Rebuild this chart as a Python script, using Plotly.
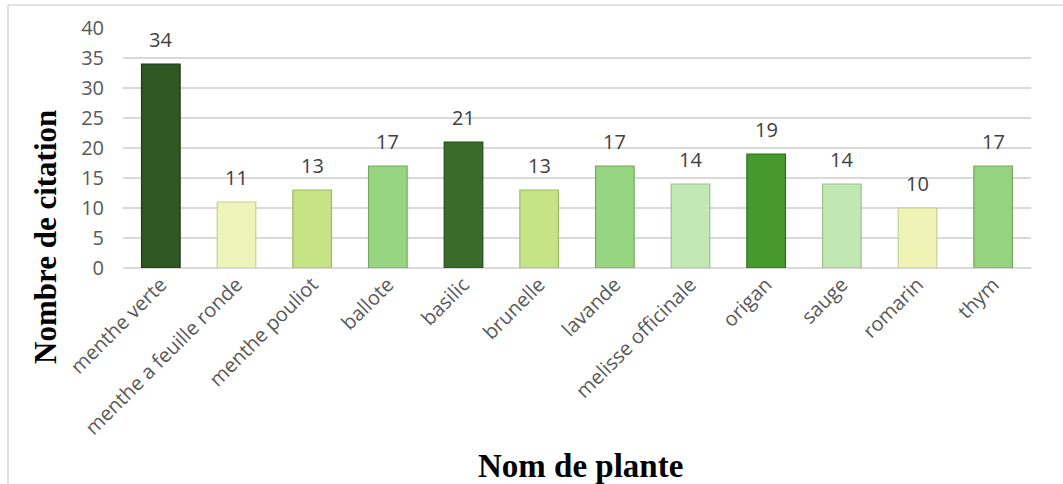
import plotly.graph_objects as go

plantes = ["menthe verte", "menthe a feuille ronde", "menthe pouliot", "ballote",
           "basilic", "brunelle", "lavande", "melisse officinale", "origan",
           "sauge", "romarin", "thym"]
citations = [34, 11, 13, 17, 21, 13, 17, 14, 19, 14, 10, 17]
couleurs = ["#2f5722", "#eef5bb", "#c6e386", "#98d580", "#3a6c29", "#c5e486",
            "#98d580", "#c2e8b3", "#469a2c", "#c1e7b2", "#eff3b5", "#96d37e"]
contours = ["#1f3c16", "#c9cf93", "#9fb866", "#74a860", "#27491b", "#9fb866",
            "#74a860", "#9cbf8e", "#2f6b1d", "#9cbf8e", "#c9cf93", "#74a860"]

# plot area spans x 123..1031 px and y 28..268 px
L, R, T, B = 123, 32, 28, 216
PW, PH = 1063 - L - R, 484 - T - B


def px_x(x):
    return (x - L) / PW


def px_y(y):
    return (484 - B - y) / PH


fig = go.Figure(go.Bar(
    x=plantes,
    y=citations,
    marker=dict(color=couleurs, line=dict(color=contours, width=1.2)),
    cliponaxis=False,
))

# value labels sit a little above each bar
value_labels = [
    dict(x=p, y=v, text=str(v), xref="x", yref="y", showarrow=False,
         yanchor="bottom", yshift=9,
         font=dict(family="Open Sans", size=20, color="#404040"))
    for p, v in zip(plantes, citations)
]

fig.update_layout(
    width=1063, height=484,
    margin=dict(l=L, r=R, t=T, b=B),
    paper_bgcolor="white", plot_bgcolor="white",
    bargap=0.49,
    showlegend=False,
    font=dict(family="Open Sans", color="#595959"),
    shapes=[
        dict(type="line", xref="paper", yref="paper", x0=px_x(8), x1=px_x(1063),
             y0=px_y(5), y1=px_y(5), line=dict(color="#d9d9d9", width=1.5)),
        dict(type="line", xref="paper", yref="paper", x0=px_x(8), x1=px_x(8),
             y0=px_y(5), y1=px_y(484), line=dict(color="#d9d9d9", width=1.5)),
    ],
    annotations=value_labels + [
        dict(text="<b>Nombre de citation</b>", textangle=-90,
             xref="paper", yref="paper", x=px_x(45), y=px_y(237),
             xanchor="center", yanchor="middle", showarrow=False,
             font=dict(family="Liberation Serif", size=31, color="black")),
        dict(text="<b>Nom de plante</b>",
             xref="paper", yref="paper", x=px_x(580), y=px_y(466),
             xanchor="center", yanchor="middle", showarrow=False,
             font=dict(family="Liberation Serif", size=33, color="black")),
    ],
)

fig.update_yaxes(
    range=[0, 40], dtick=5,
    showgrid=True, gridcolor="#d9d9d9", gridwidth=2,
    zeroline=True, zerolinecolor="#d9d9d9", zerolinewidth=2,
    showline=False, ticks="",
    tickfont=dict(family="Open Sans", size=20, color="#595959"),
    ticklabelstandoff=18,
)

fig.update_xaxes(
    tickangle=-45, showline=False, ticks="",
    tickfont=dict(family="Open Sans", size=20, color="#595959"),
)

fig.write_html("out.html")
